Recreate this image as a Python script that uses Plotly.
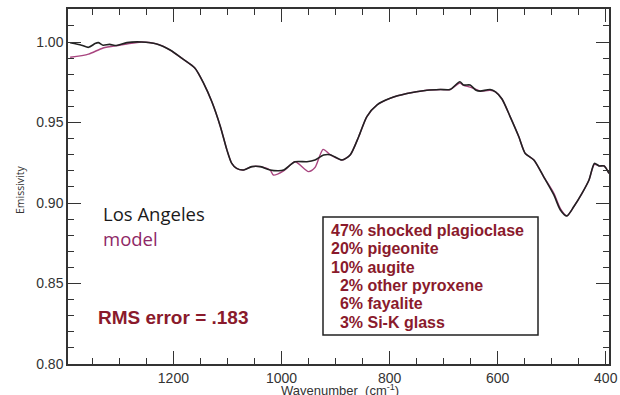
import plotly.graph_objects as go

# Los Angeles (measured) spectrum
la_wn = [1391, 1370, 1357, 1345, 1339, 1330, 1318, 1305, 1286, 1259, 1231, 1206, 1182, 1160,
         1144, 1129, 1113, 1101, 1092, 1083, 1070, 1055, 1039, 1021, 1005, 996, 975, 953,
         938, 922, 910, 888, 873, 857, 842, 823, 799, 768, 731, 706, 688, 670, 663, 651,
         640, 632, 614, 604, 592, 577, 561, 549, 533, 515, 496, 484, 472, 459, 444, 431,
         421, 412, 403, 394]
la_em = [0.9995, 0.998, 0.9967, 0.999, 0.9996, 0.998, 0.9985, 0.9978, 0.9996, 1.000, 0.9988,
         0.995, 0.9893, 0.9837, 0.9743, 0.963, 0.9474, 0.933, 0.9246, 0.9215, 0.9205, 0.9226,
         0.9226, 0.9205, 0.9200, 0.9205, 0.9256, 0.9256, 0.9267, 0.9298, 0.9300, 0.9267,
         0.9298, 0.9413, 0.9537, 0.961, 0.965, 0.968, 0.970, 0.9705, 0.9705, 0.9753, 0.9733,
         0.9733, 0.970, 0.9695, 0.9705, 0.969, 0.9646, 0.9537, 0.9413, 0.9308, 0.9267, 0.9164,
         0.905, 0.8957, 0.892, 0.8978, 0.906, 0.9143, 0.9246, 0.923, 0.923, 0.9184]

# model spectrum
model_wn = [1391, 1357, 1330, 1300, 1286, 1259, 1231, 1206, 1182, 1160, 1144, 1129, 1113,
            1101, 1092, 1083, 1070, 1055, 1039, 1021, 1015, 996, 975, 950, 938, 923, 910,
            888, 873, 857, 842, 823, 799, 768, 731, 706, 688, 670, 663, 651, 640, 632, 614,
            604, 592, 577, 561, 549, 533, 515, 496, 484, 472, 459, 444, 431, 421, 412, 403, 394]
model_em = [0.9905, 0.9925, 0.9963, 0.998, 0.9988, 1.000, 0.9988, 0.995, 0.9893, 0.9837,
            0.9743, 0.963, 0.9474, 0.933, 0.9246, 0.9215, 0.9205, 0.9226, 0.9226, 0.9205,
            0.9174, 0.9200, 0.9256, 0.9195, 0.9220, 0.9333, 0.9300, 0.9267, 0.9298, 0.9413,
            0.9537, 0.961, 0.965, 0.968, 0.970, 0.9705, 0.9705, 0.9745, 0.9730, 0.972, 0.9705,
            0.9695, 0.9700, 0.969, 0.9646, 0.9537, 0.9413, 0.9308, 0.9267, 0.9164, 0.906,
            0.8965, 0.892, 0.8978, 0.906, 0.9143, 0.9240, 0.923, 0.923, 0.9184]

x_ticks = [1200, 1000, 800, 600, 400]
y_ticks = [0.80, 0.85, 0.90, 0.95, 1.00]
composition = ["47% shocked plagioclase", "20% pigeonite", "10% augite",
               "  2% other pyroxene", "  6% fayalite", "  3% Si-K glass"]
rms_label = "RMS error = .183"

RED = "#8a1a2c"
PINK = "#a8457f"
W, H = 620, 395
L, R, T, B = 68, 11, 9, 31
PW, PH = W - L - R, H - T - B


def px(xp):
    return (xp - L) / PW


def py(yp):
    return (H - B - yp) / PH


fig = go.Figure()
fig.add_trace(go.Scatter(x=model_wn, y=model_em, mode="lines",
                         line=dict(color=PINK, width=1.4, shape="spline", smoothing=0.7),
                         showlegend=False))
fig.add_trace(go.Scatter(x=la_wn, y=la_em, mode="lines",
                         line=dict(color="#222222", width=1.6, shape="spline", smoothing=0.7),
                         showlegend=False))

axis_common = dict(showline=True, linecolor="#333", linewidth=1.5, mirror="ticks",
                   ticks="inside", tickcolor="#333", tickwidth=1.3, showgrid=False,
                   zeroline=False, automargin=False,
                   tickfont=dict(family="Liberation Sans, Arial", size=14, color="#333"))

fig.update_layout(
    width=W, height=H,
    margin=dict(l=L, r=R, t=T, b=B),
    paper_bgcolor="white", plot_bgcolor="white",
    xaxis=dict(range=[1395, 394], tickvals=x_ticks, ticklen=13,
               minor=dict(dtick=50, ticklen=6, ticks="inside", tickcolor="#333", tickwidth=1.2),
               **axis_common),
    yaxis=dict(range=[0.80, 1.0205], tickvals=y_ticks, tickformat=".2f", ticklen=13,
               minor=dict(dtick=0.01, ticklen=6, ticks="inside", tickcolor="#333", tickwidth=1.2),
               **axis_common),
)

# axis titles
fig.add_annotation(x=px(340), y=py(390), xref="paper", yref="paper",
                   text="Wavenumber  (cm<sup>-1</sup>)", showarrow=False,
                   xanchor="center", yanchor="middle",
                   font=dict(family="Liberation Sans, Arial", size=13, color="#333"))
fig.add_annotation(x=px(20), y=py(190), xref="paper", yref="paper", text="Emissivity",
                   textangle=-90, showarrow=False, xanchor="center", yanchor="middle",
                   font=dict(family="Open Sans", size=10.5, color="#333"))

fig.add_annotation(x=px(101), y=py(213), xref="paper", yref="paper", text="Los Angeles",
                   showarrow=False, xanchor="left", yanchor="middle",
                   font=dict(family="Open Sans", size=18.5, color="#1a1a1a"))
fig.add_annotation(x=px(101), y=py(238), xref="paper", yref="paper", text="model",
                   showarrow=False, xanchor="left", yanchor="middle",
                   font=dict(family="Open Sans", size=18.5, color="#8e2766"))
fig.add_annotation(x=px(96), y=py(317), xref="paper", yref="paper", text="<b>" + rms_label + "</b>",
                   showarrow=False, xanchor="left", yanchor="middle",
                   font=dict(family="Liberation Sans, Arial", size=19, color=RED))

fig.add_shape(type="rect", xref="paper", yref="paper", x0=px(323), x1=px(538),
              y0=py(335), y1=py(217), line=dict(color="#222", width=1.5),
              fillcolor="rgba(0,0,0,0)")
line_y = [230, 248.5, 267, 285, 303.5, 322]
for s, yy in zip(composition, line_y):
    fig.add_annotation(x=px(329), y=py(yy), xref="paper", yref="paper",
                       text="<b>" + s.replace(" ", "&nbsp;") + "</b>",
                       showarrow=False, xanchor="left", yanchor="middle", align="left",
                       font=dict(family="Liberation Sans, Arial", size=16, color=RED))

fig.write_html("out.html")
